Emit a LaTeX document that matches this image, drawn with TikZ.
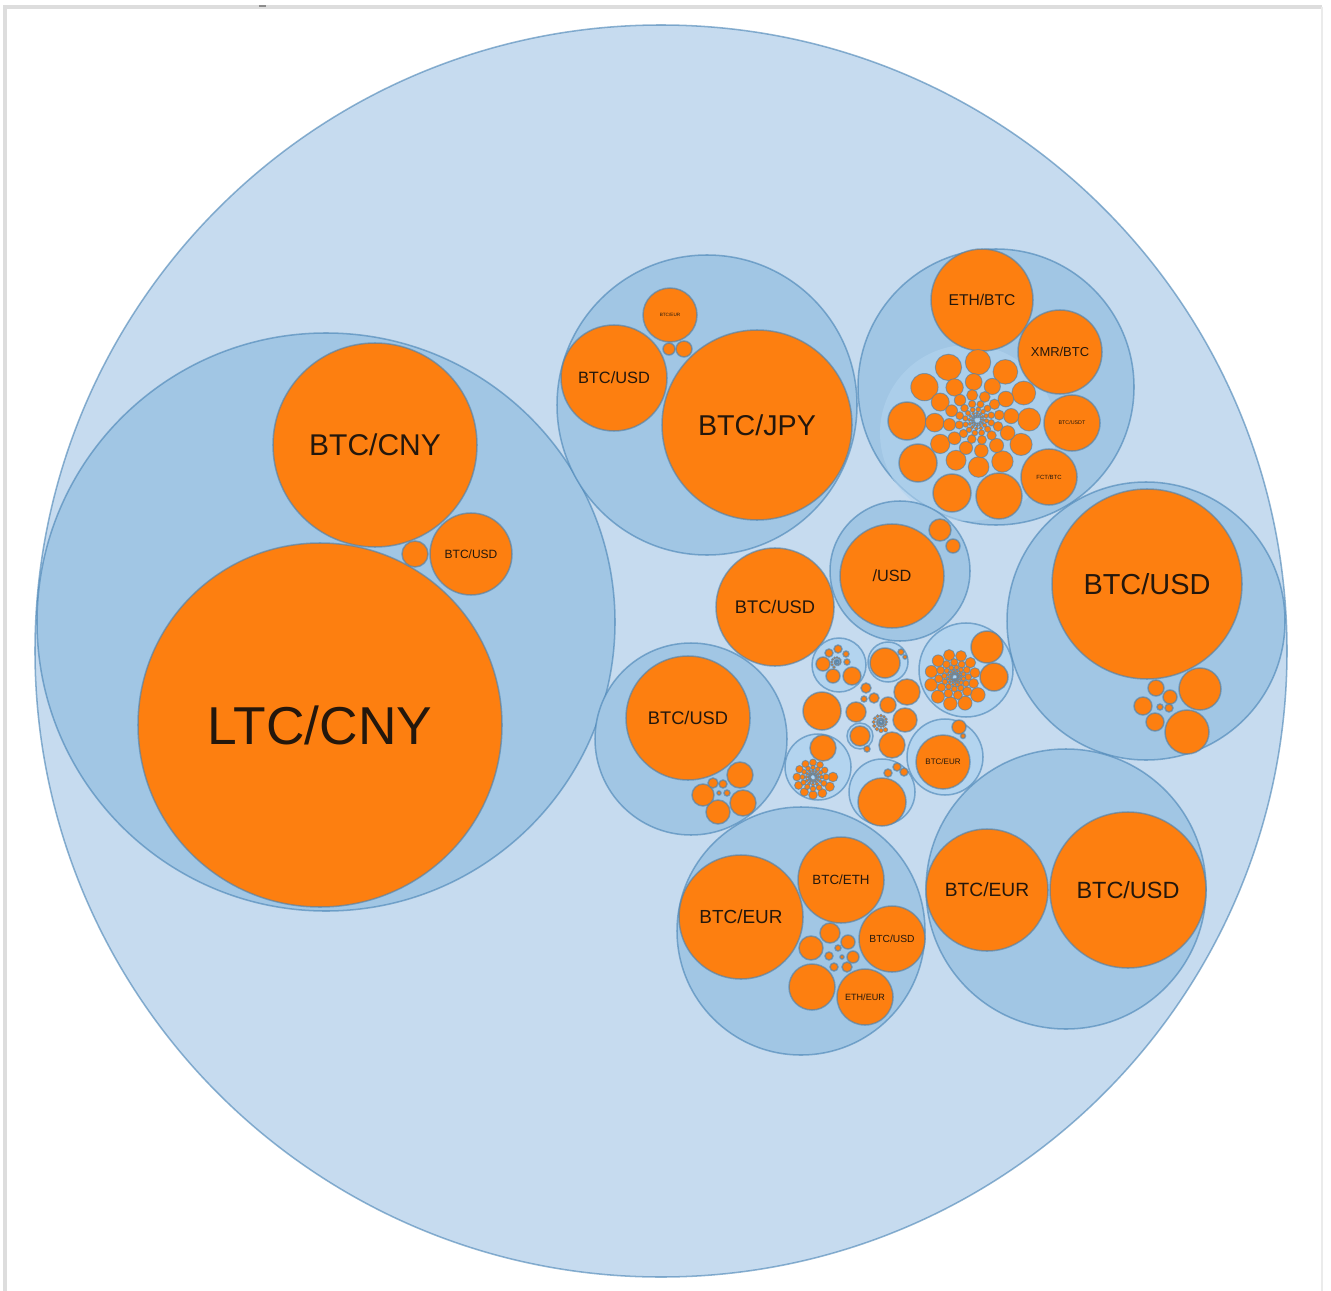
\documentclass[tikz,border=0pt]{standalone}
\usepackage{fontspec}
\setmainfont{Liberation Sans}
\definecolor{bgzero}{HTML}{C6DBEF}
\definecolor{bgone}{HTML}{A1C6E4}
\definecolor{bgtwo}{HTML}{B3D4EF}
\definecolor{org}{HTML}{FD7F10}
\definecolor{edge}{HTML}{4682B4}
\definecolor{ink}{HTML}{24170C}
\definecolor{frame}{HTML}{DDDDDD}
% #1 name, #2 cx, #3 cy, #4 d0, #5 a0, #6 step, #7 shrink, #8 ratio, #9 last index
\newcommand{\mkspiral}[9]{%
  \foreach \i in {0,...,#9}{%
    \pgfmathsetmacro\dd{#4*(#7)^\i}%
    \pgfmathsetmacro\aa{#5+#6*\i}%
    \pgfmathsetmacro\ms{#8*\dd*1.5}%
    \node[oc, line width=0.7pt, minimum size=\ms pt] (#1-\i) at ({#2+\dd*cos(\aa)},{#3+\dd*sin(\aa)}) {};
  }}
\begin{document}
\begin{tikzpicture}[x=0.75pt,y=-0.75pt,
  base/.style={circle, inner sep=0pt, outer sep=0pt, draw=edge, draw opacity=0.6, line width=1.15pt},
  rad/.style={minimum size=#1*1.5pt},
  lvzero/.style={base, fill=bgzero},
  lvone/.style={base, fill=bgone},
  lvtwo/.style={base, fill=bgtwo},
  oc/.style={base, fill=org, text=ink},
  fs/.style={font=\fontsize{#1}{#1}\selectfont}]
\useasboundingbox (0,0) rectangle (1331,1291);
\fill[white] (0,0) rectangle (1331,1291);
\draw[frame, line width=3pt] (5,1291) -- (5,7) -- (1322,7);
\draw[frame!60, line width=1.5pt] (1322,7) -- (1322,1291);
\draw[black!45, line width=1.5pt] (259,6) -- (266,6);

% outer circle
\node[lvzero, rad=626] (root) at (661,651) {};

% cluster A : LTC
\node[lvone, rad=289] (ca) at (326,622) {};
\node[oc, rad=102, fs=22.5] (btccny) at (375,445) {BTC/CNY};
\node[oc, rad=182, fs=40] (ltccny) at (320,725) {LTC/CNY};
\node[oc, rad=41, fs=9] (ausd) at (471,554) {BTC/USD};
\node[oc, rad=13] (atiny) at (415,554) {};

% cluster B : JPY
\node[lvone, rad=150] (cb) at (707,405) {};
\node[oc, rad=95, fs=21.5] (btcjpy) at (757,425) {BTC/JPY};
\node[oc, rad=53, fs=12.3] (busd) at (614,378) {BTC/USD};
\node[oc, rad=27, fs=3.5] (bsmall) at (670,315) {BTC/EUR};
\node[oc, rad=6] (bt1) at (669,349) {};
\node[oc, rad=8] (bt2) at (684,349) {};

% cluster C : ETH/BTC
\node[lvone, rad=138] (cc) at (996,387) {};
\node[circle, inner sep=0pt, fill=bgtwo, fill opacity=0.6, rad=88] (cin) at (968,433) {};
\node[oc, rad=51, fs=11.7] (ethbtc) at (982,300) {ETH/BTC};
\node[oc, rad=42, fs=9.7] (xmrbtc) at (1060,352) {XMR/BTC};
\node[oc, rad=28, fs=4] (cusdt) at (1072,423) {BTC/USDT};
\node[oc, rad=28, fs=4.5] (cfct) at (1049,477) {FCT/BTC};
\node[oc, rad=23] (co0) at (999,496) {};
\node[oc, rad=19] (co1) at (952,493) {};
\node[oc, rad=19] (co2) at (918,463) {};
\node[oc, rad=19] (co3) at (907,421) {};
\mkspiral{cs}{977}{420}{62}{212}{29.5}{0.966}{0.22}{88}

% cluster D : /USD
\node[lvone, rad=70] (cd) at (900,571) {};
\node[oc, rad=52, fs=12.2] (dusd) at (892,576) {/USD};
\node[oc, rad=11] (dt1) at (940,530) {};
\node[oc, rad=7] (dt2) at (953,546) {};

% cluster E : right BTC/USD
\node[lvone, rad=139] (ce) at (1146,621) {};
\node[oc, rad=95, fs=21.7] (eusd) at (1147,584) {BTC/USD};
\node[oc, rad=21] (e1) at (1200,689) {};
\node[oc, rad=22] (e2) at (1187,732) {};
\node[oc, rad=8] (e3) at (1156,688) {};
\node[oc, rad=7] (e4) at (1170,697) {};
\node[oc, rad=9] (e5) at (1143,706) {};
\node[oc, rad=9] (e6) at (1155,722) {};
\node[oc, rad=4] (e7) at (1169,708) {};
\node[oc, rad=3] (e8) at (1160,707) {};

% cluster F : mid-left BTC/USD
\node[lvone, rad=96] (cf) at (691,739) {};
\node[oc, rad=62, fs=13.7] (fusd) at (688,718) {BTC/USD};
\node[oc, rad=13] (f1) at (740,775) {};
\node[oc, rad=13] (f2) at (743,803) {};
\node[oc, rad=12] (f3) at (718,812) {};
\node[oc, rad=11] (f4) at (703,795) {};
\node[oc, rad=5] (f5) at (713,783) {};
\node[oc, rad=4] (f6) at (723,784) {};
\node[oc, rad=3] (f7) at (727,793) {};
\node[oc, rad=2] (f8) at (719,793) {};

% G : single BTC/USD
\node[oc, rad=59, fs=13.7] (gusd) at (775,607) {BTC/USD};

% cluster H : bottom BTC/EUR
\node[lvone, rad=124] (ch) at (801,931) {};
\node[oc, rad=62, fs=14.2] (heur) at (741,917) {BTC/EUR};
\node[oc, rad=43, fs=10] (heth) at (841,880) {BTC/ETH};
\node[oc, rad=33, fs=7.7] (husd) at (892,939) {BTC/USD};
\node[oc, rad=28, fs=6.8] (hetheur) at (865,997) {ETH/EUR};
\node[oc, rad=23] (h1) at (812,987) {};
\node[oc, rad=12] (h2) at (811,948) {};
\node[oc, rad=10] (h3) at (830,933) {};
\node[oc, rad=7] (h4) at (848,942) {};
\node[oc, rad=6] (h5) at (853,957) {};
\node[oc, rad=5] (h6) at (847,967) {};
\node[oc, rad=4] (h7) at (834,967) {};
\node[oc, rad=4] (h8) at (829,956) {};
\node[oc, rad=3] (h9) at (838,948) {};
\node[oc, rad=2] (h10) at (842,957) {};

% cluster I : bottom right
\node[lvone, rad=140] (ci) at (1066,889) {};
\node[oc, rad=61, fs=14.4] (ieur) at (987,890) {BTC/EUR};
\node[oc, rad=78, fs=17.6] (iusd) at (1128,890) {BTC/USD};

% central small clusters
\node[lvtwo, rad=27] (jone) at (839,665) {};
\node[oc, rad=7] (jone1) at (823,664) {};
\node[oc, rad=7] (jone2) at (833,676) {};
\node[oc, rad=9] (jone3) at (852,676) {};
\node[oc, rad=4] (jone4) at (829,653) {};
\node[oc, rad=4] (jone5) at (838,649) {};
\node[oc, rad=3] (jone6) at (846,654) {};
\node[oc, rad=3] (jone7) at (847,662) {};
\mkspiral{jones}{837}{662}{6}{120}{30}{0.94}{0.22}{30}

\node[lvtwo, rad=20] (jtwo) at (888,662) {};
\node[oc, rad=15] (jtwo1) at (885,663) {};
\node[oc, rad=3] (jtwo2) at (901,652) {};
\node[oc, rad=2] (jtwo3) at (905,657) {};

\node[lvtwo, rad=47] (jthree) at (966,670) {};
\node[oc, rad=16] (jthree1) at (987,647) {};
\node[oc, rad=14] (jthree2) at (994,677) {};
\mkspiral{jthrees}{955}{677}{29}{38}{31}{0.965}{0.25}{72}

\node[lvtwo, rad=38] (jfour) at (945,757) {};
\node[oc, rad=27, fs=6] (jfour1) at (943,762) {BTC/EUR};
\node[oc, rad=7] (jfour2) at (959,727) {};
\node[oc, rad=2.5] (jfour3) at (963,736) {};

\node[lvtwo, rad=33] (jfive) at (882,792) {};
\node[oc, rad=24] (jfive1) at (882,802) {};
\node[oc, rad=4] (jfive2) at (888,773) {};
\node[oc, rad=4] (jfive3) at (897,767) {};
\node[oc, rad=4] (jfive4) at (904,772) {};

\node[lvtwo, rad=33] (jsix) at (818,767) {};
\node[oc, rad=13] (jsix1) at (823,748) {};
\mkspiral{jsixs}{813}{777}{20}{0}{30}{0.965}{0.24}{60}

\node[oc, rad=19] (jseven) at (822,711) {};

% middle group
\node[oc, rad=13] (m1) at (907,692) {};
\node[oc, rad=12] (m2) at (905,720) {};
\node[oc, rad=10] (m3) at (856,712) {};
\node[oc, rad=5] (m4) at (866,688) {};
\node[oc, rad=5] (m5) at (874,698) {};
\node[oc, rad=3] (m6) at (864,699) {};
\node[oc, rad=8] (m7) at (888,705) {};
\node[lvtwo, rad=13] (m8) at (860,736) {};
\node[oc, rad=10] (m8a) at (860,736) {};
\node[oc, rad=13] (m9) at (892,745) {};
\node[oc, rad=3] (m10) at (867,749) {};
\mkspiral{ms}{881}{722}{9}{60}{30}{0.95}{0.24}{40}
\end{tikzpicture}
\end{document}
